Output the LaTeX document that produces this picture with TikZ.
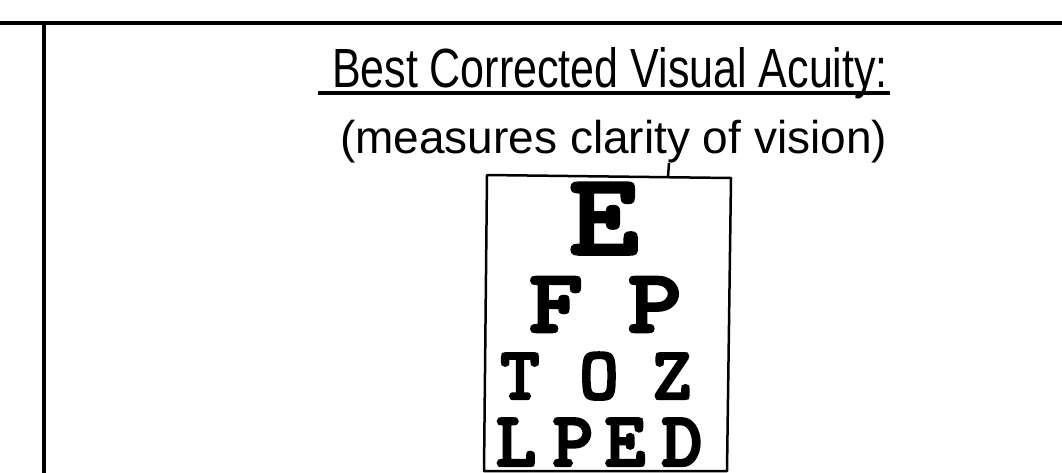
\documentclass[tikz,border=0pt]{standalone}
\usepackage{fontspec}
\setmainfont{Liberation Sans}
\newfontfamily\chartfont{lmmonolt10-bold.otf}[FakeBold=3]
\newfontfamily\chartwide{lmmonolt10-bold.otf}[FakeBold=3,FakeStretch=1.15]
\begin{document}
\begin{tikzpicture}[x=1pt,y=-1pt,
  rule/.style={line width=4pt},
  chartbox/.style={line width=2.5pt, line join=round},
  hand/.style={inner sep=0pt, outer sep=0pt},
  lt/.style={inner sep=0pt, outer sep=0pt, anchor=base},
  big/.style={font=\chartwide\fontsize{116}{116}\selectfont},
  rowtwo/.style={font=\chartwide\fontsize{90}{90}\selectfont},
  rowthree/.style={font=\chartfont\fontsize{75}{75}\selectfont},
  rowfour/.style={font=\chartfont\fontsize{78}{78}\selectfont}]
\useasboundingbox (0,0) rectangle (1062,472);
\fill[white] (0,0) rectangle (1062,472);
% frame lines
\coordinate (tl) at (0,23);
\coordinate (tr) at (1062,23);
\coordinate (vt) at (44,23);
\coordinate (vb) at (44,474);
\draw[rule] (tl) -- (tr);
\draw[rule] (vt) -- (vb);
% title
\node[hand, anchor=base west] (title) at (332,87) {\resizebox{556pt}{40pt}{Best Corrected Visual Acuity:}};
\coordinate (ul) at (318,93);
\coordinate (ur) at (890,93);
\draw[line width=3.5pt] (ul) -- (ur);
% subtitle
\node[hand, anchor=base west, font=\fontsize{46}{46}\selectfont] (sub) at (340,153) {(measures clarity of vision)};
% chart
\coordinate (c1) at (487,175);
\coordinate (c2) at (731,178);
\coordinate (c3) at (727,471);
\coordinate (c4) at (484,471);
\draw[chartbox] (c1) -- (c2) -- (c3) -- (c4) -- cycle;
\coordinate (ya) at (669,163);
\coordinate (yb) at (668,177);
\draw[line width=2.5pt] (ya) -- (yb);
\node[lt, big] (e1) at (604,254) {E};
\node[lt, rowtwo] (f2) at (556,332) {F};
\node[lt, rowtwo] (p2) at (655,332) {P};
\node[lt, rowthree] (t3) at (520,399) {T};
\node[lt, rowthree] (o3) at (599,399) {O};
\node[lt, rowthree] (z3) at (672,399) {Z};
\node[lt, rowfour] (l4) at (516,466) {L};
\node[lt, rowfour] (p4) at (573,466) {P};
\node[lt, rowfour] (e4) at (625,466) {E};
\node[lt, rowfour] (d4) at (682,466) {D};
\end{tikzpicture}
\end{document}
